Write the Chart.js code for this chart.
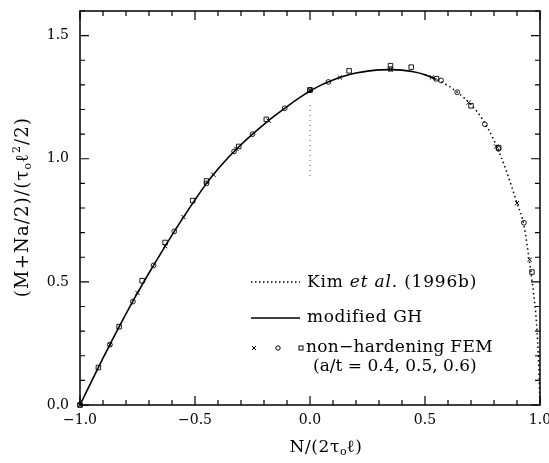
<!DOCTYPE html>
<html><head><meta charset="utf-8">
<script src="https://cdn.jsdelivr.net/npm/chart.js@4.4.0/dist/chart.umd.min.js"></script>
<style>html,body{margin:0;padding:0;background:#fff;}</style>
</head><body>
<canvas id="c" width="549" height="463" style="display:block;width:549px;height:463px"></canvas>
<script>
// ---- data ----
const ghN = [-1,-0.95,-0.9,-0.85,-0.8,-0.75,-0.7,-0.65,-0.6,-0.55,-0.5,-0.45,-0.4,-0.35,-0.3,-0.25,-0.2,-0.15,-0.1,-0.05,0,0.05,0.1,0.15,0.2,0.25,0.3,0.35,0.4,0.45,0.5,0.55];
const ghY = [0,0.096,0.19,0.282,0.37,0.455,0.536,0.614,0.69,0.763,0.833,0.900,0.958,1.010,1.057,1.100,1.140,1.177,1.212,1.245,1.275,1.300,1.320,1.336,1.348,1.356,1.361,1.362,1.360,1.353,1.341,1.323];
const kimN = [0.50,0.55,0.60,0.65,0.70,0.75,0.80,0.85,0.90,0.93,0.95,0.97,0.985,0.995,1.0];
const kimY = [1.341,1.323,1.297,1.263,1.220,1.160,1.075,0.960,0.820,0.730,0.610,0.470,0.330,0.150,0.0];
const refN = [0,0];
const refY = [0.93,1.23];
const crossN = [-1.0,-0.87,-0.75,-0.63,-0.55,-0.42,-0.32,-0.18,0.0,0.13,0.35,0.53,0.69,0.81,0.90,0.955];
const crossY = [0,0.245,0.455,0.645,0.763,0.935,1.04,1.155,1.278,1.33,1.362,1.33,1.228,1.05,0.82,0.59];
const circleN = [-1.0,-0.87,-0.77,-0.68,-0.59,-0.45,-0.33,-0.25,-0.11,0.0,0.08,0.35,0.57,0.64,0.76,0.82,0.93];
const circleY = [0,0.245,0.42,0.567,0.705,0.90,1.03,1.10,1.205,1.278,1.312,1.365,1.318,1.27,1.14,1.04,0.74];
const squareN = [-1.0,-0.92,-0.83,-0.73,-0.63,-0.51,-0.45,-0.31,-0.19,0.0,0.17,0.35,0.44,0.55,0.70,0.82,0.965];
const squareY = [0,0.152,0.318,0.505,0.66,0.83,0.91,1.05,1.16,1.28,1.357,1.378,1.372,1.325,1.215,1.045,0.54];
const xTickValues = [-1,-0.5,0,0.5,1];
const xTickLabels = ["\u22121.0","\u22120.5","0.0","0.5","1.0"];
const yTickValues = [0,0.5,1,1.5];
const yTickLabels = ["0.0","0.5","1.0","1.5"];

const FONT = "'DejaVu Serif', serif";
const pts = (xs, ys) => xs.map((x, i) => ({x, y: ys[i]}));
const lbl = (vals, labels) => (v) => { const i = vals.findIndex(t => Math.abs(t - v) < 1e-6); return i >= 0 ? labels[i] : ''; };

function setFont(ctx, s) { ctx.font = (s.it ? 'italic ' : '') + s.sz + 'px ' + FONT; ctx.letterSpacing = (s.ls || 0) + 'px'; }
function drawRich(ctx, segs, cx, cy, rot) {
  ctx.save();
  ctx.translate(cx, cy);
  if (rot) ctx.rotate(-Math.PI / 2);
  ctx.textBaseline = 'alphabetic';
  ctx.fillStyle = '#000';
  let total = 0;
  segs.forEach(s => { setFont(ctx, s); s.w = ctx.measureText(s.t).width; total += s.w; });
  let x = -total / 2;
  segs.forEach(s => { setFont(ctx, s); ctx.fillText(s.t, x, (s.dy || 0) + 6); x += s.w; });
  ctx.restore();
}
function drawRichLeft(ctx, segs, x, y) {
  ctx.save();
  ctx.textBaseline = 'middle';
  ctx.fillStyle = '#000';
  segs.forEach(s => { setFont(ctx, s); ctx.fillText(s.t, x, y); x += ctx.measureText(s.t).width; });
  ctx.restore();
}

const decor = {
  id: 'decor',
  afterDraw(chart) {
    const ctx = chart.ctx, a = chart.chartArea;
    const xs = chart.scales.x, ys = chart.scales.y;
    ctx.save();
    ctx.strokeStyle = '#000';
    ctx.lineWidth = 1.5;
    ctx.strokeRect(a.left, a.top, a.right - a.left, a.bottom - a.top);
    ctx.lineWidth = 1.2;
    ctx.beginPath();
    xs.ticks.forEach(t => {
      const p = xs.getPixelForValue(t.value);
      const L = xTickValues.some(v => Math.abs(v - t.value) < 1e-6) ? 9 : 5;
      ctx.moveTo(p, a.bottom); ctx.lineTo(p, a.bottom - L);
      ctx.moveTo(p, a.top); ctx.lineTo(p, a.top + L);
    });
    ys.ticks.forEach(t => {
      const p = ys.getPixelForValue(t.value);
      const L = yTickValues.some(v => Math.abs(v - t.value) < 1e-6) ? 9 : 5;
      ctx.moveTo(a.left, p); ctx.lineTo(a.left + L, p);
      ctx.moveTo(a.right, p); ctx.lineTo(a.right - L, p);
    });
    ctx.stroke();
    ctx.restore();

    // axis titles
    drawRich(ctx, [
      {t: '(M+Na/2)/(\u03C4', sz: 18, ls: 1.2},
      {t: 'o', sz: 11, dy: 3},
      {t: '\u2113', sz: 18, ls: 1.2},
      {t: '2', sz: 11, dy: -8, ls: 1},
      {t: '/2)', sz: 18, ls: 1.2}
    ], 22, 207, true);
    drawRich(ctx, [
      {t: 'N/(2\u03C4', sz: 17, ls: 0.6},
      {t: 'o', sz: 11, dy: 3},
      {t: '\u2113)', sz: 17, ls: 0.6}
    ], 326, 446, false);

    // legend
    const L0 = a.left + 171, L1 = a.left + 220;
    ctx.save();
    ctx.strokeStyle = '#000';
    ctx.lineWidth = 1.4;
    ctx.setLineDash([1.5, 2.5]);
    ctx.beginPath(); ctx.moveTo(L0, 282); ctx.lineTo(L1, 282); ctx.stroke();
    ctx.setLineDash([]);
    ctx.lineWidth = 1.3;
    ctx.beginPath(); ctx.moveTo(L0, 318); ctx.lineTo(L1, 318); ctx.stroke();
    ctx.lineWidth = 1;
    ctx.beginPath();
    ctx.moveTo(252, 346); ctx.lineTo(256, 350); ctx.moveTo(256, 346); ctx.lineTo(252, 350);
    ctx.stroke();
    ctx.beginPath(); ctx.arc(278, 348, 2.2, 0, Math.PI * 2); ctx.stroke();
    ctx.strokeRect(299, 346, 4, 4);
    ctx.restore();
    drawRichLeft(ctx, [{t: 'Kim ', sz: 17, ls: 0.8}, {t: 'et al.', sz: 17, it: true, ls: 0.8}, {t: ' (1996b)', sz: 17, ls: 0.8}], 307, 283);
    drawRichLeft(ctx, [{t: 'modified GH', sz: 17, ls: 0.6}], 307, 318);
    drawRichLeft(ctx, [{t: 'non\u2212hardening FEM', sz: 17, ls: 0.3}], 306, 348);
    drawRichLeft(ctx, [{t: '(a/t = 0.4, 0.5, 0.6)', sz: 17}], 313, 367);
  }
};

new Chart(document.getElementById('c'), {
  type: 'line',
  data: {
    datasets: [
      {label: 'Kim et al. (1996b)', data: pts(kimN, kimY), borderColor: '#000', borderWidth: 1.5, borderDash: [1.5, 3], pointRadius: 0, cubicInterpolationMode: 'monotone', fill: false},
      {label: 'ref', data: pts(refN, refY), borderColor: '#555', borderWidth: 1, borderDash: [1, 4], pointRadius: 0, fill: false},
      {label: 'modified GH', data: pts(ghN, ghY), borderColor: '#000', borderWidth: 1.6, pointRadius: 0, cubicInterpolationMode: 'monotone', fill: false},
      {label: 'FEM a/t=0.4', data: pts(crossN, crossY), showLine: false, pointStyle: 'crossRot', pointRadius: 3, borderColor: '#000', borderWidth: 1, clip: false},
      {label: 'FEM a/t=0.5', data: pts(circleN, circleY), showLine: false, pointStyle: 'circle', pointRadius: 2.4, borderColor: '#000', backgroundColor: 'rgba(0,0,0,0)', borderWidth: 0.9, clip: false},
      {label: 'FEM a/t=0.6', data: pts(squareN, squareY), showLine: false, pointStyle: 'rect', pointRadius: 3.2, borderColor: '#000', backgroundColor: 'rgba(0,0,0,0)', borderWidth: 0.9, clip: false}
    ]
  },
  options: {
    responsive: false,
    animation: false,
    devicePixelRatio: 1,
    layout: {padding: {top: 11, right: 9, left: 0, bottom: 0}},
    plugins: {legend: {display: false}, tooltip: {enabled: false}},
    scales: {
      x: {
        type: 'linear', min: -1, max: 1,
        ticks: {stepSize: 0.1, autoSkip: false, maxRotation: 0, padding: 7, color: '#000', font: {family: FONT, size: 14}, callback: lbl(xTickValues, xTickLabels)},
        grid: {display: false, drawTicks: false},
        border: {display: false},
        afterFit: s => { s.height = 58; s.paddingLeft = 0; s.paddingRight = 0; }
      },
      y: {
        type: 'linear', min: 0, max: 1.6,
        ticks: {stepSize: 0.1, autoSkip: false, padding: 11, color: '#000', font: {family: FONT, size: 14}, callback: lbl(yTickValues, yTickLabels)},
        grid: {display: false, drawTicks: false},
        border: {display: false},
        afterFit: s => { s.width = 80; s.paddingTop = 0; s.paddingBottom = 0; }
      }
    }
  },
  plugins: [decor]
});
</script>
</body></html>
